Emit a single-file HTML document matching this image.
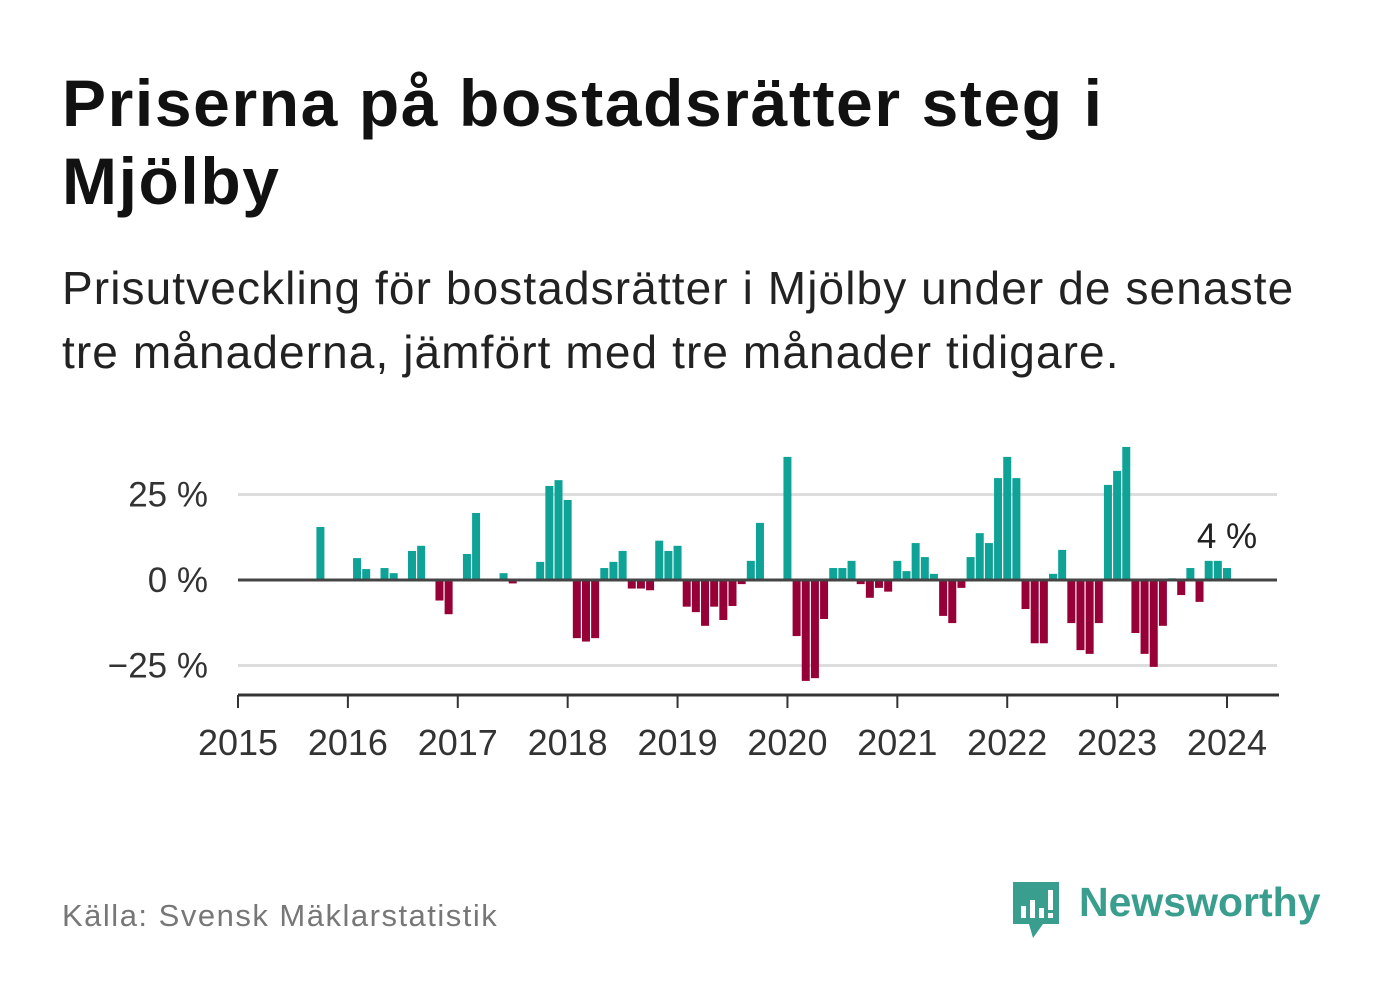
<!DOCTYPE html>
<html><head><meta charset="utf-8">
<style>
body{margin:0;width:1382px;height:999px;background:#fff;font-family:"Liberation Sans",sans-serif;position:relative;overflow:hidden}
.t{position:absolute;white-space:nowrap}
</style></head><body>
<div class="t" style="left:62px;top:64px;font-size:66px;letter-spacing:1.6px;font-weight:bold;line-height:78px;color:#111">Priserna på bostadsrätter steg i<br>Mjölby</div>
<div class="t" style="left:62px;top:256px;font-size:46px;letter-spacing:1.1px;line-height:64px;color:#222">Prisutveckling för bostadsrätter i Mjölby under de senaste<br>tre månaderna, jämfört med tre månader tidigare.</div>
<svg id="chart" width="1382" height="800" style="position:absolute;left:0;top:0"></svg>
<div class="t" style="left:62px;top:898px;font-size:31px;letter-spacing:1.5px;color:#777">Källa: Svensk Mäklarstatistik</div>
<svg width="52" height="62" style="position:absolute;left:1011px;top:880px">
<path d="M2 2H48V44H32L22 58L18 44H2Z" fill="#3a9e8e"/>
<rect x="10" y="26" width="5" height="12" fill="#fff"/><rect x="19" y="20" width="5" height="18" fill="#fff"/><rect x="28" y="28" width="5" height="10" fill="#fff"/><rect x="37" y="10" width="5" height="20" fill="#fff"/><rect x="37" y="33" width="5" height="5" fill="#fff"/>
</svg>
<div class="t" style="left:1079px;top:879px;font-size:41px;font-weight:bold;color:#3a9e8e">Newsworthy</div>
<script>
const values=[0,0,0,0,0,0,0,0,0,15.5,0,0,0,6.4,3.2,0,3.5,2,0,8.5,10,0,-6,-10,0,7.6,19.6,0,0,2,-1,0,0,5.3,27.5,29.2,23.4,-17,-18,-17,3.5,5.3,8.5,-2.5,-2.5,-3,11.5,8.5,10,-7.8,-9.4,-13.4,-7.8,-11.7,-7.6,-1.2,5.6,16.7,0,0,36,-16.4,-29.5,-28.7,-11.4,3.5,3.5,5.6,-1.2,-5.2,-2.3,-3.4,5.6,2.6,10.8,6.7,1.8,-10.5,-12.6,-2.3,6.7,13.7,10.8,29.8,36,29.8,-8.5,-18.5,-18.5,1.8,8.8,-12.6,-20.5,-21.6,-12.6,27.8,31.9,38.9,-15.5,-21.6,-25.4,-13.4,0.5,-4.4,3.5,-6.4,5.6,5.6,3.5];
const yTicks=[25,0,-25];
const yTickLabels=["25 %","0 %","−25 %"];
const years=[2015,2016,2017,2018,2019,2020,2021,2022,2023,2024];
const lastLabel="4 %";
const NS="http://www.w3.org/2000/svg";
const svg=document.getElementById('chart');
const x=i=>238+i*(989/108);
const y=v=>580-v*3.42;
function mk(t,a){const e=document.createElementNS(NS,t);for(const k in a)e.setAttribute(k,a[k]);svg.appendChild(e);return e;}
yTicks.forEach((v,j)=>{
 if(v!==0){const g=mk('line',{x1:238,x2:1277,y1:y(v),y2:y(v),stroke:'#ddd','stroke-width':3});
 
 }
 const t=mk('text',{x:208,y:y(v)+12,'text-anchor':'end','font-size':35,fill:'#333','font-family':'Liberation Sans, sans-serif'});
 t.textContent=yTickLabels[j];
 
 
});
values.forEach((v,i)=>{
 if(v===0)return;
 const r=mk('rect',{x:x(i)-4,width:8,y:v>0?y(v):y(0),height:Math.abs(y(v)-y(0)),fill:v>0?'#0fa398':'#960036'});
 
 
});
const z=mk('line',{x1:238,x2:1277,y1:y(0),y2:y(0),stroke:'#444','stroke-width':3});


const ax=mk('line',{x1:238,x2:1279,y1:695,y2:695,stroke:'#333','stroke-width':3});


years.forEach((yr,j)=>{
 const xx=x(j*12);
 const tk=mk('line',{x1:xx,x2:xx,y1:695,y2:708,stroke:'#333','stroke-width':2});
 
 
 const t=mk('text',{x:xx,y:755,'text-anchor':'middle','font-size':36,fill:'#333','font-family':'Liberation Sans, sans-serif'});
 t.textContent=yr;
 
 
});
const li=values.length-1;
const lt=mk('text',{x:x(li),y:y(values[li])-20,'text-anchor':'middle','font-size':35,fill:'#222','font-family':'Liberation Sans, sans-serif'});
lt.textContent=lastLabel;


</script>
</body></html>
